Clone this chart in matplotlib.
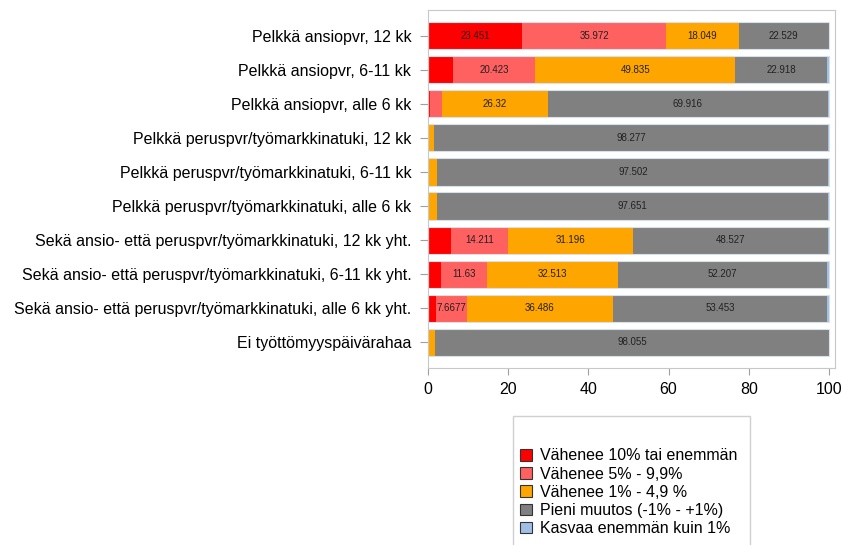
import numpy as np
import matplotlib.pyplot as plt
from matplotlib.patches import Rectangle

plt.rcParams['font.family'] = ['Liberation Sans', 'DejaVu Sans']

# ====================== Data ======================
categories = [
    'Pelkkä ansiopvr, 12 kk',
    'Pelkkä ansiopvr, 6-11 kk',
    'Pelkkä ansiopvr, alle 6 kk',
    'Pelkkä peruspvr/työmarkkinatuki, 12 kk',
    'Pelkkä peruspvr/työmarkkinatuki, 6-11 kk',
    'Pelkkä peruspvr/työmarkkinatuki, alle 6 kk',
    'Sekä ansio- että peruspvr/työmarkkinatuki, 12 kk yht.',
    'Sekä ansio- että peruspvr/työmarkkinatuki, 6-11 kk yht.',
    'Sekä ansio- että peruspvr/työmarkkinatuki, alle 6 kk yht.',
    'Ei työttömyyspäivärahaa',
]
series_names = [
    'Vähenee 10% tai enemmän',
    'Vähenee 5% - 9,9%',
    'Vähenee 1% - 4,9 %',
    'Pieni muutos (-1% - +1%)',
    'Kasvaa enemmän kuin 1%',
]
dec_10 = [23.451, 6.35, 0.5, 0.03, 0.05, 0.02, 5.75, 3.15, 2.0, 0.03]
dec_5 = [35.972, 20.423, 3.0, 0.05, 0.3, 0.05, 14.211, 11.63, 7.6677, 0.05]
dec_1 = [18.049, 49.835, 26.32, 1.5, 2.0, 2.15, 31.196, 32.513, 36.486, 1.75]
small = [22.529, 22.918, 69.916, 98.277, 97.502, 97.651, 48.527, 52.207, 53.453, 98.055]
inc_1 = [0.0, 0.47, 0.26, 0.15, 0.2, 0.15, 0.3, 0.5, 0.4, 0.15]
colors = ['#FF0000', '#FF6060', '#FFA500', '#808080', '#A0BFE6']

series = [dec_10, dec_5, dec_1, small, inc_1]

# ====================== Plot ======================
fig = plt.figure(figsize=(8.43, 5.45), dpi=100)
ax = fig.add_axes([428 / 843, 1 - 368 / 545, 407 / 843, 358 / 545])

y = np.arange(len(categories))
left = np.zeros(len(categories))
for vals, col in zip(series, colors):
    vals = np.array(vals)
    ax.barh(y, vals, left=left, height=0.8, color=col, edgecolor='none')
    for yi, (l, v) in enumerate(zip(left, vals)):
        if v >= 7:
            ax.text(l + v / 2, yi, '{:.5g}'.format(v), ha='center', va='center',
                    fontsize=7, color='#222222')
    left += vals

# thin light outline round each bar
ax.barh(y, left, height=0.8, color='none', edgecolor='#d8e0ec', lw=0.8)

ax.set_xlim(0, 101.5)
ax.set_ylim(len(categories) - 0.25, -0.75)
ax.set_yticks(y)
ax.set_yticklabels(categories, fontsize=11.5)
ax.set_xticks([0, 20, 40, 60, 80, 100])
ax.tick_params(axis='x', labelsize=11.5, length=5, color='#a0a0a0', pad=5)
ax.tick_params(axis='y', length=6, color='#a0a0a0', pad=6)
for s in ax.spines.values():
    s.set_color('#c8c8c8')

# legend box (cut off at the bottom of the image)
fig.patches.append(Rectangle((513 / 843, 1 - 560 / 545), 237 / 843, 144 / 545,
                             transform=fig.transFigure, facecolor='white',
                             edgecolor='#d0d0d0', lw=1))
handles = [Rectangle((0, 0), 1, 1, facecolor=c, edgecolor='#333333', lw=0.8) for c in colors]
fig.legend(handles, series_names, loc='upper left',
           bbox_to_anchor=(514 / 843, 1 - 442 / 545), frameon=False,
           fontsize=11.5, handlelength=0.75, handleheight=0.75,
           handletextpad=0.5, labelspacing=0.2, borderaxespad=0)

fig.savefig('out.png', dpi=100)
